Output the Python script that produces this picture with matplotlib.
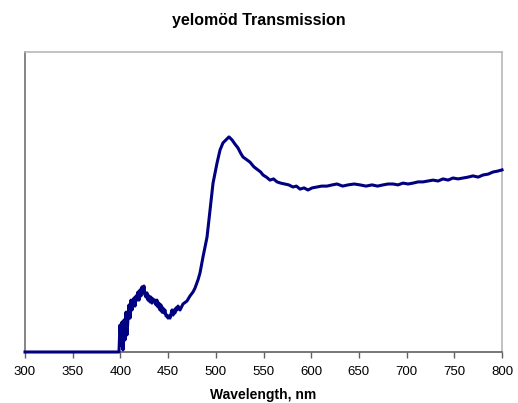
import matplotlib
matplotlib.use("Agg")
import matplotlib.pyplot as plt

wavelength = [300, 350, 398.5, 399.6, 400.6, 401.7, 402.7, 403.8, 404.8, 405.9, 406.9, 408.0, 409.0,
              410.1, 411.1, 412.2, 413.2, 414.3, 415.3, 416.4, 417.4, 418.4, 419.5, 420.5,
              421.6, 422.6, 423.7, 424.7, 425.8, 426.8, 427.9, 428.9, 430.0, 431.0, 432.0,
              433.1, 434.1, 435.2, 436.2, 437.3, 438.3, 439.4, 440.4, 441.5, 442.5, 443.6,
              444.6, 445.7, 446.7, 447.8, 448.8, 449.9, 451.0, 452.0, 453.1, 454.1, 455.2,
              456.2, 457.2, 458.3, 459.3, 460.4, 462.5, 465.6, 469.8, 473.0, 476.1, 478.2,
              481.3, 483.4, 486.6, 490.8, 493.9, 497.1, 501.3, 504.4, 507.5, 510.7, 513.8,
              517.0, 520.1, 523.3, 526.0, 528.5, 531.5, 535.8, 540.0, 544.2, 547.0, 549.5,
              553.0, 556.8, 560.5, 564.2, 568.0, 572.5, 576.5, 580.9, 584.5, 588.3, 592.5,
              596.6, 601.0, 606.1, 611.0, 616.6, 622.0, 627.0, 633.0, 638.6, 645.0, 651.2,
              657.5, 663.7, 669.5, 675.3, 680.5, 685.8, 691.0, 696.2, 701.5, 706.7, 712.0,
              717.2, 722.5, 727.7, 733.0, 738.2, 743.5, 748.6, 754.0, 759.1, 764.5, 769.6,
              775.0, 780.1, 785.5, 790.6, 795.5, 800.0]
transmission = [0, 0, 0, 9.0, 2.3, 10.0, 0.7, 10.7, 4.0, 13.3, 5.7, 11.3, 15.7,
                11.3, 17.3, 14.0, 16.7, 18.0, 15.3, 18.7, 17.3, 20.0, 17.3, 20.7,
                18.7, 21.7, 19.7, 22.0, 19.0, 18.3, 19.7, 17.3, 18.7, 16.7, 18.3,
                16.3, 17.7, 16.7, 17.3, 15.7, 17.3, 15.0, 16.3, 14.0, 15.7, 13.3,
                14.7, 13.0, 14.0, 12.0, 12.3, 11.3, 12.0, 11.3, 12.7, 14.0, 12.3,
                14.0, 13.0, 14.7, 14.0, 15.3, 14.0, 16.0, 17.0, 18.7, 20.0, 21.3,
                24.0, 26.3, 31.7, 38.3, 47.3, 56.3, 63.0, 67.3, 69.7, 70.7, 71.7,
                70.7, 69.3, 68.0, 66.3, 65.0, 64.3, 63.3, 61.7, 60.7, 60.0, 59.0,
                58.3, 57.3, 57.7, 56.7, 56.3, 56.0, 55.7, 55.0, 55.3, 54.3, 54.7,
                54.0, 54.7, 55.0, 55.3, 55.3, 55.7, 56.0, 55.3, 55.7, 56.0, 55.7,
                55.3, 55.7, 55.3, 55.7, 56.0, 56.0, 55.7, 56.3, 56.0, 56.3, 56.7,
                56.7, 57.0, 57.3, 57.0, 57.7, 57.3, 58.0, 57.7, 58.0, 58.3, 58.7,
                58.3, 59.0, 59.3, 60.0, 60.3, 60.7]

xticks = [300, 350, 400, 450, 500, 550, 600, 650, 700, 750, 800]

plt.rcParams['font.family'] = ['Liberation Sans', 'DejaVu Sans']

fig = plt.figure(figsize=(5.18, 4.03), dpi=100)
ax = fig.add_axes([25/518, (403-352)/403, 477/518, 300/403])
ax.plot(wavelength, transmission, color='#000080', linewidth=2.2, clip_on=False, zorder=3,
        solid_joinstyle='round')
ax.set_xlim(300, 800)
ax.set_ylim(0, 100)
ax.set_xticks(xticks)
ax.set_xticklabels([str(t) for t in xticks], fontsize=9.5)
ax.set_yticks([])
ax.tick_params(axis='x', direction='out', length=4, width=1, color='#606060', pad=6)
ax.spines['left'].set_color('#707070')
ax.spines['bottom'].set_color('#606060')
ax.spines['top'].set_color('#b8b8b8')
ax.spines['right'].set_color('#b8b8b8')
for s in ax.spines.values():
    s.set_linewidth(1.2)
ax.set_xlabel('Wavelength, nm', fontsize=10, fontweight='bold', labelpad=7)
fig.text(0.5, 1 - 20/403, 'yelomöd Transmission', ha='center', va='center',
         fontsize=11.5, fontweight='bold')
fig.savefig('out.png', dpi=100)
